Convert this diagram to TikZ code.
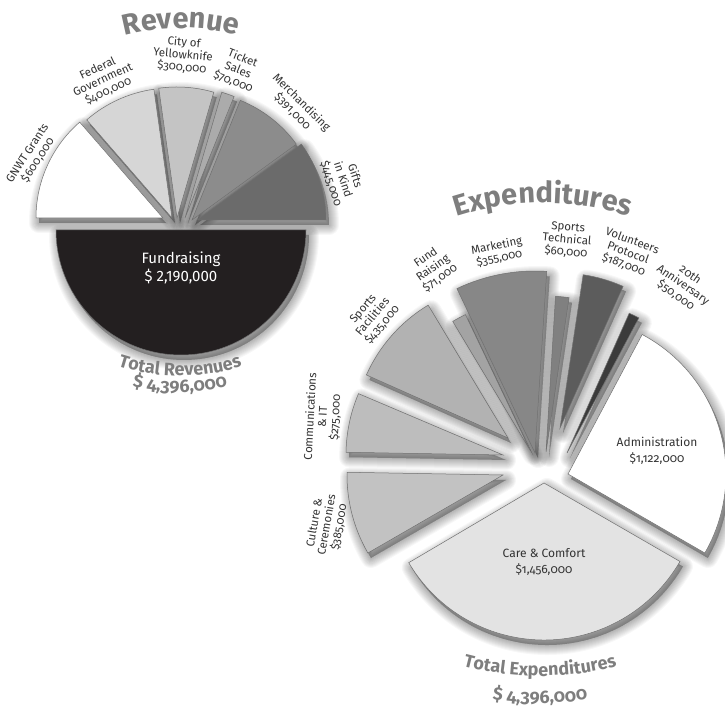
\documentclass[tikz,border=0pt]{standalone}
\usepackage{fontspec}
\setmainfont{Fira Sans}[Numbers=OldStyle]
\usetikzlibrary{decorations.text,calc}
\definecolor{edge}{HTML}{707070}
\definecolor{titlegray}{HTML}{7E7E7E}
\definecolor{labelgray}{HTML}{333333}
\definecolor{fundblack}{HTML}{231F20}
\pgfdeclarelayer{background}
\pgfdeclarelayer{shadow}
\pgfsetlayers{background,shadow,main}
\tikzset{
  lbl/.style={align=center,text=labelgray,inner sep=0pt,
    font=\fontsize{11.5}{12.5}\selectfont},
  biglbl/.style={lbl,font=\fontsize{12}{16}\selectfont},
  title/.style={decorate,decoration={text along path,text align=center,
    text color=titlegray}},
}
\newcommand\bigtitle{\fontsize{29}{29}\selectfont\bfseries}
\newcommand\totaltitle{\fontsize{18}{18}\selectfont\bfseries}
% apex, start angle, end angle, radius, fill
\newcommand\slice[5]{%
  \begin{pgfonlayer}{shadow}
  \foreach \w in {2,4,...,20}
    \filldraw[black,opacity=.03,line width=\w pt,line join=round,shift={(3,-5)}]
      #1 -- ++(#2:#4pt) arc[start angle=#2,end angle=#3,radius=#4pt] -- cycle;
  \end{pgfonlayer}
  \filldraw[fill=#5,draw=edge,line width=.5pt]
    #1 -- ++(#2:#4pt) arc[start angle=#2,end angle=#3,radius=#4pt] -- cycle;
}
\begin{document}
\begin{tikzpicture}[x=1pt,y=1pt]
\begin{pgfonlayer}{background}
\fill[white] (0,0) rectangle (725,709);
\end{pgfonlayer}
\useasboundingbox (0,0) rectangle (725,709);

% Revenue
\slice{(181,479)}{180}{360}{125}{fundblack}
\slice{(163,491)}{131}{180}{127}{white}
\slice{(172,491)}{98}{131}{130}{black!16}
\slice{(177,491)}{73.7}{98}{131}{black!23}
\slice{(185,491)}{68}{73.7}{131}{black!33}
\slice{(192,489)}{36}{68}{129}{black!45}
\slice{(197,489)}{0}{36}{129}{black!58}

\node[lbl,rotate=57] (gnwt) at (33,552) {GNWT Grants\\\$600,000};
\node[lbl,rotate=25] (federal) at (103,629) {Federal\\Government\\\$400,000};
\node[lbl,rotate=-5] (city) at (183,654) {City of\\Yellowknife\\\$300,000};
\node[lbl,rotate=-22] (ticket) at (238,639) {Ticket\\Sales\\\$70,000};
\node[lbl,rotate=-45] (merch) at (297,602) {Merchandising\\\$391,000};
\node[lbl,rotate=-72] (gifts) at (343,529) {Gifts\\in Kind\\\$445,000};
\node[align=center,text=white,inner sep=0pt,
  font=\fontsize{15}{18}\selectfont\addfontfeature{Numbers=Lining}]
  (fund) at (181,441) {Fundraising\\\$ 2,190,000};

\coordinate (revtop) at (181,461);
\coordinate (revbot) at (180,533);
\path[title,decoration={text={|\bigtitle|Revenue}}]
  ($(revtop)+(125:220pt)$) arc[start angle=125,end angle=55,radius=220pt];
\path[title,decoration={text={|\totaltitle|Total Revenues}}]
  ($(revbot)+(235:200pt)$) arc[start angle=235,end angle=305,radius=200pt];
\path[title,decoration={text={|\totaltitle|{\$} 4,396,000}}]
  ($(revbot)+(235:216pt)$) arc[start angle=235,end angle=305,radius=216pt];

% Expenditures
\slice{(544,226)}{210.5}{330}{157}{black!11}
\slice{(568,235)}{-30}{62}{158}{white}
\slice{(503,234)}{179}{210}{156}{black!24}
\slice{(503,254)}{157}{179}{157}{black!26}
\slice{(508,271)}{121}{156}{155}{black!30}
\slice{(530,259)}{115.5}{121}{150}{black!36}
\slice{(535,256)}{86.3}{115.4}{182}{black!47}
\slice{(546,257)}{81.5}{86.5}{156}{black!50}
\slice{(560,281)}{66}{81.4}{155}{black!64}
\slice{(567,256)}{62}{66}{153}{black!77}

\node[lbl,rotate=50] (facilities) at (373,392) {Sports\\Facilities\\\$435,000};
\node[lbl,rotate=35] (raising) at (433,441) {Fund\\Raising\\\$71,000};
\node[lbl,rotate=12] (marketing) at (498,457) {Marketing\\\$355,000};
\node[lbl,rotate=-5] (technical) at (567,469) {Sports\\Technical\\\$60,000};
\node[lbl,rotate=-20] (volunteers) at (628,456) {Volunteers\\Protocol\\\$187,000};
\node[lbl,rotate=-35] (anniv) at (683,424) {20th\\Anniversary\\\$50,000};
\node[lbl,rotate=87] (comms) at (323,292) {Communications\\\& IT\\\$275,000};
\node[lbl,rotate=80] (culture) at (327,184) {Culture \&\\Ceremonies\\\$385,000};
\node[biglbl] (admin) at (657,258) {Administration\\\$1,122,000};
\node[biglbl] (care) at (544,147) {Care \& Comfort\\\$1,456,000};

\coordinate (exptop) at (543,226);
\coordinate (expbot) at (540,333);
\path[title,decoration={text={|\bigtitle|Expenditures}}]
  ($(exptop)+(125:280pt)$) arc[start angle=125,end angle=55,radius=280pt];
\path[title,decoration={text={|\totaltitle|Total Expenditures}}]
  ($(expbot)+(235:300pt)$) arc[start angle=235,end angle=305,radius=300pt];
\path[title,decoration={text={|\totaltitle|{\$} 4,396,000}}]
  ($(expbot)+(235:327pt)$) arc[start angle=235,end angle=305,radius=327pt];
\end{tikzpicture}
\end{document}
